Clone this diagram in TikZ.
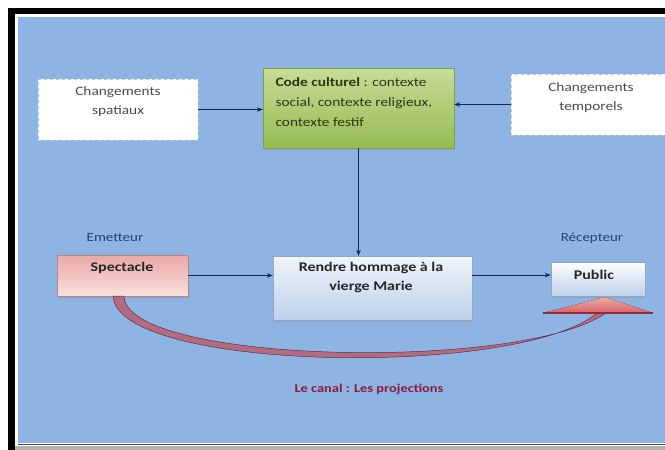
\documentclass[tikz,border=0pt]{standalone}
\usepackage{fontspec}
\setmainfont{Carlito}[FakeStretch=1.2]
\usetikzlibrary{arrows.meta,shadows}

\definecolor{bgblue}{RGB}{141,180,226}
\definecolor{navy}{RGB}{20,40,85}
\definecolor{codeTop}{RGB}{200,220,150}
\definecolor{codeBot}{RGB}{150,187,82}
\definecolor{pinkTop}{RGB}{232,168,168}
\definecolor{pinkBot}{RGB}{250,224,220}
\definecolor{paleTop}{RGB}{240,245,251}
\definecolor{paleBot}{RGB}{190,208,234}
\definecolor{dashgray}{RGB}{185,198,218}
\definecolor{txtgray}{RGB}{75,75,75}
\definecolor{codetext}{RGB}{45,55,25}
\definecolor{labelblue}{RGB}{45,65,105}
\definecolor{canalred}{RGB}{140,28,60}
\definecolor{mauve}{RGB}{178,108,130}
\definecolor{mauvedark}{RGB}{105,45,72}
\definecolor{headTop}{RGB}{242,170,165}
\definecolor{headBot}{RGB}{212,100,104}
\definecolor{headEdge}{RGB}{150,40,55}

\begin{document}
\begin{tikzpicture}[x=1pt,y=-1pt,
	shade/.style={drop shadow={opacity=0.3,shadow xshift=1pt,shadow yshift=-1.5pt}},
	changebox/.style={draw=dashgray,dashed,line width=0.8pt,fill=white,inner sep=0pt},
	codebox/.style={shade,draw=codeBot!85!black,line width=0.4pt,top color=codeTop,bottom color=codeBot,inner sep=0pt},
	spectbox/.style={shade,draw=pinkTop!80!black,line width=0.4pt,top color=pinkTop,bottom color=pinkBot,inner sep=0pt},
	palebox/.style={shade,draw=paleBot!80!black,line width=0.4pt,top color=paleTop,bottom color=paleBot,inner sep=0pt},
	txt/.style={font=\fontsize{12.8}{19}\selectfont,text=txtgray,align=center},
	codetxt/.style={font=\fontsize{12.8}{20}\selectfont,text=codetext,align=left},
	lbl/.style={font=\fontsize{12.5}{14}\selectfont,text=labelblue},
	boldtxt/.style={font=\bfseries\fontsize{13.3}{19}\selectfont,text=black!85,align=center},
	flow/.style={draw=navy,line width=0.8pt,-{Stealth[length=6pt,width=4.5pt]}}]
	\useasboundingbox (0,0) rectangle (665,450);
	
	% frame
	\fill[white] (0,0) rectangle (665,450);
	\fill[black] (8,8) rectangle (665,450);
	\fill[white] (15,14) rectangle (665,450);
	\fill[black!30] (15,446) rectangle (665,450);
	\fill[bgblue] (18,17) rectangle (665,443);
	\draw[black!70,line width=1.5pt] (18,444.5) -- (665,444.5);
	
	% boxes
	\node[changebox,minimum width=160pt,minimum height=61pt] (spat) at (118,109.5) {};
	\node[txt] (spattxt) at (118,101.5) {Changements\\spatiaux};
	\node[codebox,minimum width=191pt,minimum height=80pt] (code) at (358.5,108) {};
	\node[codetxt,anchor=west] (codelines) at (272,102) {\textbf{Code culturel}\mdseries{} : contexte\\social, contexte religieux,\\contexte festif};
	\node[changebox,minimum width=165pt,minimum height=61pt] (temp) at (593.5,104.5) {};
	\node[txt] (temptxt) at (591,97.5) {Changements\\temporels};
	
	\node[lbl] (emet) at (115,238) {Emetteur};
	\node[lbl] (recep) at (592,238) {Récepteur};
	
	\node[spectbox,minimum width=131pt,minimum height=41pt] (spect) at (122.5,275.5) {};
	\node[boldtxt] (specttxt) at (122,268) {Spectacle};
	\node[palebox,minimum width=199pt,minimum height=64pt] (rendre) at (372.5,288) {};
	\node[boldtxt] (rendretxt) at (371,277.5) {Rendre hommage à la\\vierge Marie};
	\node[palebox,top color=white,minimum width=94pt,minimum height=34pt] (public) at (598,279) {};
	\node[boldtxt] (publictxt) at (594,275) {Public};
	
	% arrows
	\draw[flow] (spat.east) -- (spat.east -| code.west);
	\draw[flow] (temp.west) -- (temp.west -| code.east);
	\draw[flow] (code.south) -- (code.south |- rendre.north);
	\draw[flow] (spect.east) -- (spect.east -| rendre.west);
	\draw[flow] (rendre.east |- publictxt) -- (public.west |- publictxt);
	
	% canal
	\coordinate (tip) at ([xshift=7pt,yshift=-1pt]public.south);
	\fill[mauve,draw=mauvedark,line width=0.5pt] ([xshift=-9.5pt]spect.south) .. controls (118,372) and (520,378) .. (597,313) -- (606,313) .. controls (522,372) and (126,364) .. ([xshift=1.5pt]spect.south) -- cycle;
	\fill[top color=headTop,bottom color=headBot] (543,313) -- (tip) -- (653,313) -- cycle;
	\draw[headEdge,line width=1.2pt] (543,313) -- (653,313);
	\node[font=\bfseries\fontsize{12}{14}\selectfont,text=canalred] (canal) at (369,389) {Le canal : Les projections};
\end{tikzpicture}
\end{document}
